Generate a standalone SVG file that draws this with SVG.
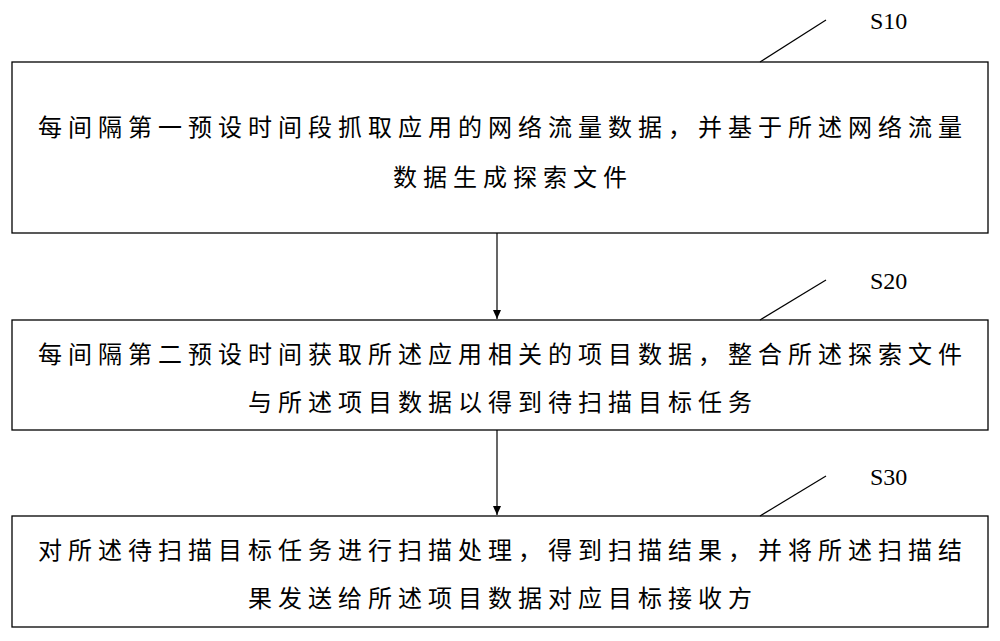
<svg xmlns="http://www.w3.org/2000/svg" width="1000" height="641" viewBox="0 0 1000 641">
<style>
.box{fill:#fff;stroke:#000;stroke-width:1.3}
.t{font-family:"Liberation Serif","Noto Sans CJK SC",serif;font-size:24px;fill:#000;text-anchor:middle;letter-spacing:6px}
.lb{font-family:"Liberation Serif",serif;font-size:24px;fill:#000}
.ln{stroke:#000;stroke-width:1.2;fill:none}
</style>
<defs><marker id="a" markerWidth="10" markerHeight="10" refX="9" refY="5" orient="auto" markerUnits="userSpaceOnUse"><path d="M0,1 L9,5 L0,9 Z" fill="#000"/></marker></defs>
<rect width="1000" height="641" fill="#fff"/>
<g id="n1"><rect class="box" x="12" y="62" width="976" height="171"/>
<text class="t" x="503" y="136">每间隔第一预设时间段抓取应用的网络流量数据，并基于所述网络流量</text>
<text class="t" x="513" y="186">数据生成探索文件</text>
<line class="ln" x1="760" y1="62" x2="826" y2="20"/><text class="lb" x="870" y="29">S10</text></g>
<g id="n2"><rect class="box" x="12" y="320" width="976" height="110"/>
<text class="t" x="503" y="363">每间隔第二预设时间获取所述应用相关的项目数据，整合所述探索文件</text>
<text class="t" x="503" y="411">与所述项目数据以得到待扫描目标任务</text>
<line class="ln" x1="760" y1="320" x2="826" y2="280"/><text class="lb" x="870" y="289">S20</text></g>
<g id="n3"><rect class="box" x="12" y="516" width="976" height="111"/>
<text class="t" x="503" y="559">对所述待扫描目标任务进行扫描处理，得到扫描结果，并将所述扫描结</text>
<text class="t" x="503" y="607">果发送给所述项目数据对应目标接收方</text>
<line class="ln" x1="760" y1="516" x2="826" y2="476"/><text class="lb" x="870" y="485">S30</text></g>
<g id="connectors">
<line class="ln" x1="497" y1="233" x2="497" y2="319" marker-end="url(#a)"/>
<line class="ln" x1="497" y1="430" x2="497" y2="515" marker-end="url(#a)"/>
</g>
</svg>
